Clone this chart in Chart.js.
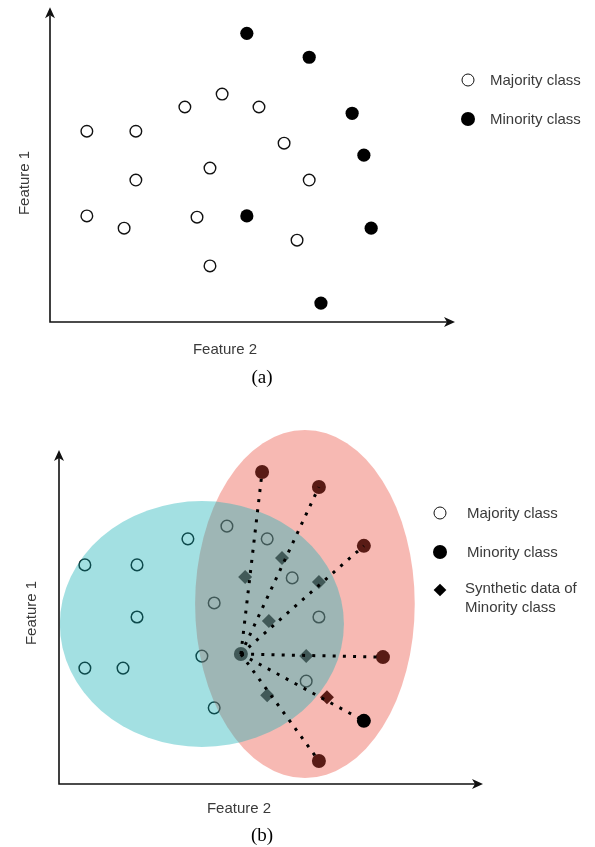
<!DOCTYPE html>
<html>
<head>
<meta charset="utf-8">
<title>SMOTE illustration</title>
<script src="https://cdn.jsdelivr.net/npm/chart.js@4.4.1/dist/chart.umd.min.js"></script>
<style>
body{margin:0;background:#fff;}
#wrap{position:relative;width:595px;height:847px;overflow:hidden;font-family:"Liberation Sans",Arial,sans-serif;color:#3a3a3a;}
canvas{position:absolute;left:0;}
#chartA{top:0;}
#chartB{top:400px;}
.lbl{position:absolute;font-size:15px;white-space:nowrap;transform:translate(-50%,-50%);}
.rot{transform:translate(-50%,-50%) rotate(-90deg);}
.cap{position:absolute;font-family:"Liberation Serif","Times New Roman",serif;font-size:19px;color:#000;transform:translate(-50%,-50%);}
.leg{position:absolute;font-size:15px;line-height:19px;white-space:nowrap;}
.mk{position:absolute;box-sizing:border-box;transform:translate(-50%,-50%);}
.open{width:13px;height:13px;border:1.5px solid #111;border-radius:50%;}
.full{width:14px;height:14px;background:#000;border-radius:50%;}
.dia{width:9px;height:9px;background:#000;transform:translate(-50%,-50%) rotate(45deg);}
</style>
</head>
<body>
<div id="wrap">
  <canvas id="chartA" width="595" height="390"></canvas>
  <canvas id="chartB" width="595" height="447"></canvas>

  <!-- panel (a) texts -->
  <div class="lbl rot" style="left:23px;top:183px;">Feature 1</div>
  <div class="lbl" style="left:225px;top:348px;">Feature 2</div>
  <div class="cap" style="left:262px;top:377px;">(a)</div>
  <div class="mk open" style="left:468px;top:80px;"></div>
  <div class="leg" style="left:490px;top:70px;">Majority class</div>
  <div class="mk full" style="left:468px;top:119px;"></div>
  <div class="leg" style="left:490px;top:109px;">Minority class</div>

  <!-- panel (b) texts -->
  <div class="lbl rot" style="left:30px;top:613px;">Feature 1</div>
  <div class="lbl" style="left:239px;top:807px;">Feature 2</div>
  <div class="cap" style="left:262px;top:835px;">(b)</div>
  <div class="mk open" style="left:440px;top:513px;"></div>
  <div class="leg" style="left:467px;top:503px;">Majority class</div>
  <div class="mk full" style="left:440px;top:552px;"></div>
  <div class="leg" style="left:467px;top:542px;">Minority class</div>
  <div class="mk dia" style="left:440px;top:590px;"></div>
  <div class="leg" style="left:465px;top:578px;">Synthetic data of<br>Minority class</div>
</div>

<script>
/* DATA : PANEL (a) */

const majorityA = [
  {x:0.91,y:6.06},{x:2.12,y:6.06},{x:3.33,y:6.83},{x:4.25,y:7.24},
  {x:5.16,y:6.83},{x:5.78,y:5.68},{x:3.95,y:4.89},{x:2.12,y:4.51},
  {x:6.40,y:4.51},{x:0.91,y:3.37},{x:1.83,y:2.98},{x:3.63,y:3.33},
  {x:6.10,y:2.60},{x:3.95,y:1.78}
];

const minorityA = [
  {x:4.86,y:9.17},{x:6.40,y:8.41},{x:7.46,y:6.63},{x:7.75,y:5.30},
  {x:4.86,y:3.37},{x:7.93,y:2.98},{x:6.69,y:0.60}
];

/* DATA : PANEL (b) */

const majorityB = [
  {x:0.61,y:6.56},{x:1.84,y:6.56},{x:3.04,y:7.34},{x:3.96,y:7.72},
  {x:4.91,y:7.34},{x:5.50,y:6.17},{x:3.66,y:5.42},{x:1.84,y:5.00},
  {x:6.13,y:5.00},{x:0.61,y:3.47},{x:1.51,y:3.47},{x:3.37,y:3.83},
  {x:5.83,y:3.08},{x:3.66,y:2.28}
];

const seedB = {x:4.29,y:3.89};

const neighboursB = [
  {x:4.79,y:9.34},{x:6.13,y:8.89},{x:7.19,y:7.13},
  {x:7.64,y:3.80},{x:7.19,y:1.89},{x:6.13,y:0.69}
];

/* the one neighbour that sits above the coloured regions */
const frontNeighbour = 4;

const syntheticB = [
  {x:4.39,y:6.20},{x:5.26,y:6.77},{x:6.13,y:6.05},{x:4.95,y:4.88},
  {x:5.83,y:3.83},{x:4.91,y:2.66},{x:6.32,y:2.60}
];

/* regions : centre and half axes, in feature units */
const minorityRegion = {x:5.80,y:5.39,rx:2.59,ry:5.21};
const majorityRegion = {x:3.37,y:4.79,rx:3.35,ry:3.68};

/* PLUGIN : regions + arrow axes */

function drawRegion(chart, r, color){
  const xs = chart.scales.x;
  const ys = chart.scales.y;
  const cx = xs.getPixelForValue(r.x);
  const cy = ys.getPixelForValue(r.y);
  const rx = xs.getPixelForValue(r.x + r.rx) - cx;
  const ry = cy - ys.getPixelForValue(r.y + r.ry);
  const ctx = chart.ctx;
  ctx.save();
  ctx.fillStyle = color;
  ctx.beginPath();
  ctx.ellipse(cx, cy, rx, ry, 0, 0, Math.PI*2);
  ctx.fill();
  ctx.restore();
}

function drawRegions(chart, list){
  list.forEach(item => drawRegion(chart, item.region, item.color));
}

function arrowHead(ctx, x, y, dir){
  ctx.save();
  ctx.translate(x, y);
  if(dir === "up") ctx.rotate(-Math.PI/2);
  ctx.beginPath();
  ctx.moveTo(0, 0);
  ctx.lineTo(-11, -5);
  ctx.lineTo(-8, 0);
  ctx.lineTo(-11, 5);
  ctx.closePath();
  ctx.fill();
  ctx.restore();
}

const figurePlugin = {
  id: "figure",
  beforeDatasetsDraw(chart){
    chart.$regionsDone = false;
  },
  beforeDatasetDraw(chart, args, opts){
    const ds = chart.data.datasets[args.index];
    if(ds.aboveRegions && !chart.$regionsDone){
      drawRegions(chart, opts.regions || []);
      chart.$regionsDone = true;
    }
  },
  afterDatasetsDraw(chart, args, opts){
    if(!chart.$regionsDone){
      drawRegions(chart, opts.regions || []);
    }
    const ctx = chart.ctx;
    const xs = chart.scales.x;
    const ys = chart.scales.y;
    const left = xs.getPixelForValue(xs.min);
    const right = xs.getPixelForValue(xs.max);
    const bottom = ys.getPixelForValue(ys.min);
    const top = ys.getPixelForValue(ys.max);
    ctx.save();
    ctx.strokeStyle = "#111";
    ctx.fillStyle = "#111";
    ctx.lineWidth = 1.6;
    ctx.beginPath();
    ctx.moveTo(left, top + 8);
    ctx.lineTo(left, bottom);
    ctx.lineTo(right - 8, bottom);
    ctx.stroke();
    arrowHead(ctx, left, top, "up");
    arrowHead(ctx, right, bottom, "right");
    ctx.restore();
  }
};

function baseOptions(padding, regions){
  return {
    responsive: false,
    animation: false,
    devicePixelRatio: 1,
    layout: {padding: padding},
    scales: {
      x: {type: "linear", min: 0, max: 10, display: false},
      y: {type: "linear", min: 0, max: 10, display: false}
    },
    plugins: {
      legend: {display: false},
      tooltip: {enabled: false},
      figure: {regions: regions}
    }
  };
}

/* CHART (a) */

new Chart(document.getElementById("chartA"), {
  type: "scatter",
  data: {
    datasets: [
      {
        label: "Majority class",
        data: majorityA,
        pointRadius: 5.8,
        borderWidth: 1.4,
        borderColor: "#111",
        backgroundColor: "rgba(255,255,255,0)",
        clip: false
      },
      {
        label: "Minority class",
        data: minorityA,
        pointRadius: 6.6,
        borderWidth: 0,
        backgroundColor: "#000",
        clip: false
      }
    ]
  },
  options: baseOptions({left:50, right:140, top:7, bottom:68}, []),
  plugins: [figurePlugin]
});

/* CHART (b) */

const backNeighbours =
  neighboursB.filter((p, i) => i !== frontNeighbour);

const linkSets = neighboursB.map(p => ({
  label: "link",
  data: [seedB, p],
  showLine: true,
  borderColor: "#000",
  borderWidth: 3,
  borderDash: [3, 7.2],
  borderCapStyle: "butt",
  pointRadius: 0,
  order: 1,
  aboveRegions: true,
  clip: false
}));

new Chart(document.getElementById("chartB"), {
  type: "scatter",
  data: {
    datasets: [
      {
        label: "Minority class (front)",
        data: [neighboursB[frontNeighbour]],
        pointRadius: 7,
        borderWidth: 0,
        backgroundColor: "#000",
        order: 0,
        aboveRegions: true,
        clip: false
      },
      ...linkSets,
      {
        label: "Majority class",
        data: majorityB,
        pointRadius: 5.8,
        borderWidth: 1.5,
        borderColor: "#000",
        backgroundColor: "rgba(255,255,255,0)",
        order: 3,
        clip: false
      },
      {
        label: "Minority class",
        data: [seedB].concat(backNeighbours),
        pointRadius: 7,
        borderWidth: 0,
        backgroundColor: "#000",
        order: 3,
        clip: false
      },
      {
        label: "Synthetic data of Minority class",
        data: syntheticB,
        pointStyle: "rectRot",
        pointRadius: 7,
        borderWidth: 0,
        backgroundColor: "#000",
        order: 3,
        clip: false
      }
    ]
  },
  options: baseOptions({left:59, right:112, top:50, bottom:63}, [
    {region: minorityRegion, color: "rgba(235,72,55,0.38)"},
    {region: majorityRegion, color: "rgba(32,180,185,0.41)"}
  ]),
  plugins: [figurePlugin]
});
</script>
</body>
</html>
